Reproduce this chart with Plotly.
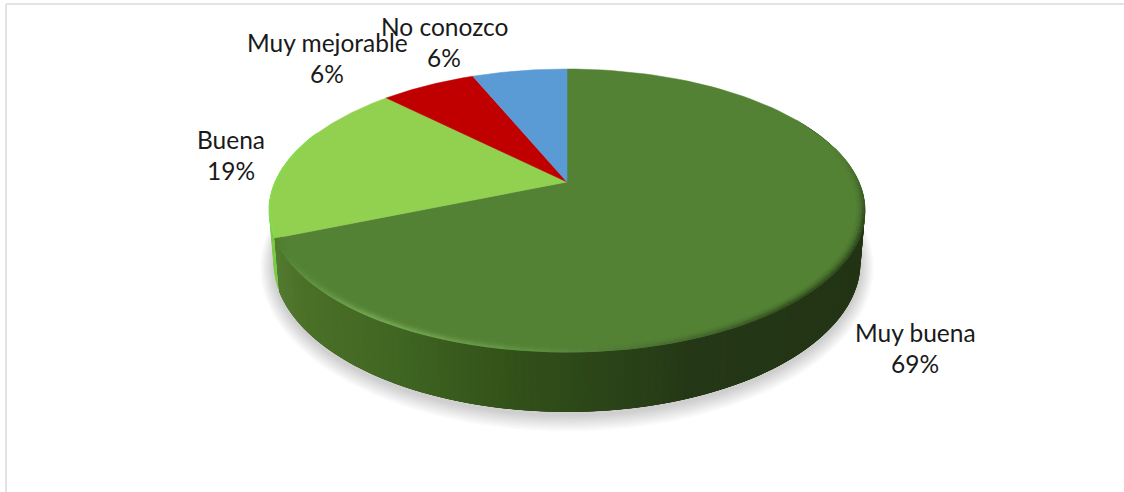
import numpy as np
import plotly.graph_objects as go

categories = ["Muy buena", "Buena", "Muy mejorable", "No conozco"]
values = [11, 3, 1, 1]
percent_labels = ["69%", "19%", "6%", "6%"]
top_colors = ["#548235", "#92D050", "#C00000", "#5B9BD5"]

# label anchor positions in page pixels: x, y of name line, y of percent line
label_pos = [(915, 332, 363), (231, 139, 170), (327, 42, 73), (444, 26, 57)]

CX, CY = 567, 182
K = 0.2014
A, B = 292, 135.8
A2, B2, DY2 = 287.5, 143.7, 50


def proj(theta_deg, r=1.0, a=A, b=B, cy=CY):
    t = np.radians(theta_deg)
    u, v = r * np.sin(t), r * np.cos(t)
    den = 1 + K * v
    return CX + a * u / den, cy - b * v / den


def bottom(theta_deg, r=1.0):
    return proj(theta_deg, r, A2, B2, CY + DY2)


def hex2rgb(c):
    return np.array([int(c[i:i + 2], 16) for i in (1, 3, 5)], float)


def ramp_rgb(x, xs, cols):
    return np.array([np.interp(x, xs, [hex2rgb(c)[i] for c in cols]) for i in range(3)])


def css(rgb):
    return "rgb(%d,%d,%d)" % tuple(np.round(rgb))


fig = go.Figure()


def poly(x, y, color, lw=0.0, line=None):
    fig.add_trace(go.Scatter(x=list(x), y=list(y), mode="lines", fill="toself", fillcolor=color,
                             line=dict(color=line or color, width=lw), hoverinfo="skip", showlegend=False))


def stroke(x, y, color, lw):
    fig.add_trace(go.Scatter(x=list(x), y=list(y), mode="lines",
                             line=dict(color=color, width=lw), hoverinfo="skip", showlegend=False))


# soft shadow under the disc
th_all = np.linspace(0, 360, 241)
for i in range(12, 0, -1):
    sx, sy = proj(th_all, 1.0, A2 + i * 1.1, B2 + i * 1.1, CY + DY2 + 3)
    poly(sx, sy, "rgba(0,0,0,0.014)", lw=0, line="rgba(0,0,0,0)")

# slice boundaries, clockwise from the top
fractions = np.array(values) / sum(values)
edges = np.concatenate([[0], np.cumsum(fractions) * 360])


def wall(th, color_of):
    for i in range(len(th) - 1):
        t0, t1 = th[i], th[min(i + 4, len(th) - 1)]
        arc = np.linspace(t0, t1, 6)
        xt, yt = proj(arc)
        xb, yb = bottom(arc[::-1])
        poly(np.r_[xt, xb, xt[0]], np.r_[yt, yb, yt[0]], color_of((xt[0] + proj(th[i + 1])[0]) / 2))


# side wall
wall_stops = [268, 300, 400, 500, 600, 700, 870]
wall_cols = ["#557e32", "#4b7028", "#3f6522", "#335319", "#2b4518", "#243716", "#223414"]
wall(np.linspace(edges[1], edges[1] + 45, 16), lambda x: "#7CC945")
wall(np.linspace(60, edges[1], 150), lambda x: css(ramp_rgb(x, wall_stops, wall_cols)))

# top surface
for i in range(len(values)):
    arc = np.linspace(edges[i], edges[i + 1], 120)
    ax, ay = proj(arc)
    poly(np.r_[CX, ax, CX], np.r_[CY, ay, CY], top_colors[i], lw=0.5)

# bevel along the visible rim of the top surface
rim_th = [75, 90, 105, 140, 170, 190, 212, 232, edges[1]]
rim_cols = ["#548235", "#446a2b", "#2c461c", "#334e20", "#4f7737", "#639645", "#76a852", "#5f9040", "#4b7a2e"]
rim = np.linspace(75, edges[1], 70)
base = hex2rgb(top_colors[0])
for r, w, mix in [(0.975, 1.6, 0.12), (0.982, 1.6, 0.3), (0.988, 1.6, 0.5), (0.993, 1.6, 0.75), (0.998, 1.6, 1.0)]:
    for t0, t1 in zip(rim[:-1], rim[1:]):
        rgb = ramp_rgb((t0 + t1) / 2, rim_th, rim_cols) * mix + base * (1 - mix)
        x, y = proj(np.array([t0, t1]), r)
        stroke(x, y, css(rgb), w)
bue = np.linspace(edges[1] + 1, edges[1] + 45, 20)
bx, by = proj(bue, 0.997)
stroke(bx, by, "#86DA4E", 2.4)

# labels
annotations = []
for cat, pct, (lx, ly1, ly2) in zip(categories, percent_labels, label_pos):
    for txt, ly in ((cat, ly1), (pct, ly2)):
        annotations.append(dict(x=lx, y=ly, text=txt, showarrow=False, xanchor="center", yanchor="middle",
                                font=dict(family="Lato, Carlito, sans-serif", size=24.5, color="#1a1a1a")))

fig.update_layout(
    width=1124, height=492, margin=dict(l=0, r=0, t=0, b=0),
    paper_bgcolor="white", plot_bgcolor="white", showlegend=False,
    xaxis=dict(range=[0, 1124], visible=False, fixedrange=True),
    yaxis=dict(range=[492, 0], visible=False, fixedrange=True),
    annotations=annotations,
    shapes=[
        dict(type="line", xref="x", yref="y", x0=6, x1=1124, y0=4, y1=4, line=dict(color="#DADADA", width=1.5)),
        dict(type="line", xref="x", yref="y", x0=6, x1=6, y0=4, y1=492, line=dict(color="#DADADA", width=1.5)),
    ],
)

fig.write_html("out.html", config={"displayModeBar": False},
               post_script="document.body.style.margin='0';document.body.style.overflow='hidden';")
